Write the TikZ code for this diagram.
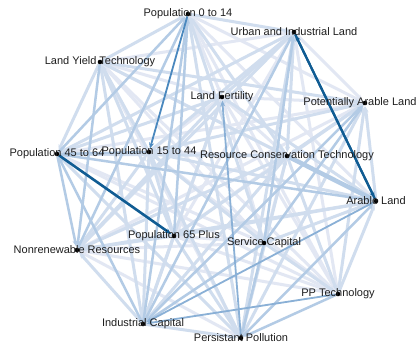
\documentclass[tikz,border=0pt]{standalone}
\usepackage{fontspec}
\setmainfont{Liberation Sans}
\usetikzlibrary{arrows.meta}
\definecolor{cw1}{HTML}{E2E7F3}
\definecolor{cw2}{HTML}{D0DDEE}
\definecolor{cw3}{HTML}{B3CBE5}
\definecolor{cw4}{HTML}{8AB0D6}
\definecolor{cmid}{HTML}{4A88BE}
\definecolor{cdark}{HTML}{105C93}
\definecolor{ctext}{HTML}{1E1E1E}
\tikzset{
  vtx/.style={circle,inner sep=0pt,minimum size=4.6pt},
  lab/.style={font=\fontsize{11pt}{12pt}\selectfont,text=ctext,inner sep=0pt},
  tipa/.style={-{Stealth[length=6pt,width=5pt]},shorten >=1pt},
  ew1/.style={tipa,draw=cw1,line width=3pt},
  ew2/.style={tipa,draw=cw2,line width=3pt},
  ew3/.style={tipa,draw=cw3,line width=2.5pt},
  ew4/.style={tipa,draw=cw4,line width=1.8pt},
  emid/.style={tipa,draw=cmid,line width=1.8pt},
  edark/.style={tipa,draw=cdark,line width=2.2pt},
}
\begin{document}
\begin{tikzpicture}[x=1pt,y=-1pt]
\useasboundingbox (0,0) rectangle (420,347);
\fill[white] (0,0) rectangle (420,347);
% vertices
\node[vtx] (n1) at (188,14) {};
\node[vtx] (n2) at (294,32) {};
\node[vtx] (n3) at (100,62) {};
\node[vtx] (n4) at (222,97) {};
\node[vtx] (n5) at (365,103) {};
\node[vtx] (n6) at (149,152) {};
\node[vtx] (n7) at (57,154) {};
\node[vtx] (n8) at (287,156) {};
\node[vtx] (n9) at (376,201) {};
\node[vtx] (n10) at (174,236) {};
\node[vtx] (n11) at (77,250) {};
\node[vtx] (n12) at (264,243) {};
\node[vtx] (n13) at (338,294) {};
\node[vtx] (n14) at (143,324) {};
\node[vtx] (n15) at (241,338) {};
% edges, lightest first
\foreach \a/\b in {1/4,1/5,1/9,1/13,2/3,2/5,2/10,2/13,3/4,3/8,3/12,3/13,3/15,
  4/5,6/4,4/8,4/10,4/12,4/13,5/7,5/11,8/6,6/13,7/12,7/13,8/10,8/12,10/12,10/13,
  11/12,11/13,11/15}
  \draw[ew1] (n\a) -- (n\b);
\foreach \a/\b in {1/2,3/1,8/1,12/1,15/1,2/4,6/2,2/7,2/8,11/2,15/2,3/5,6/3,3/7,3/9,10/3,14/3,
  4/7,9/4,11/4,14/4,6/5,5/8,9/5,5/10,13/5,15/5,9/6,6/10,11/6,12/6,14/6,6/15,8/7,15/7,
  11/8,8/13,8/14,15/8,10/9,9/11,12/9,13/9,10/11,10/14,10/15,14/11,12/13,14/15}
  \draw[ew2] (n\a) -- (n\b);
\foreach \a/\b in {7/1,10/1,11/1,14/1,12/2,14/2,3/11,12/5,14/5,6/7,7/9,7/11,14/7,15/9,12/14,12/15,13/15}
  \draw[ew3] (n\a) -- (n\b);
\draw[ew3,line width=4.5pt] (n8) -- (n9);
\foreach \a/\b in {15/4,9/14,13/14}
  \draw[ew4] (n\a) -- (n\b);
\draw[emid] (n1) -- (n6);
\draw[edark] (n9) -- (n2);
\draw[edark] (n2) -- (n9);
\draw[edark,line width=2.6pt] (n7) -- (n10);
% dots
\foreach \i in {1,...,15} \fill[black] (n\i.center) circle (2.3pt);
% labels
\node[lab] (l1) at (n1) {Population 0 to 14};
\node[lab] (l2) at (n2) {Urban and Industrial Land};
\node[lab] (l3) at (n3) {Land Yield Technology};
\node[lab] (l4) at (n4) {Land Fertility};
\node[lab,xshift=-5pt] (l5) at (n5) {Potentially Arable Land};
\node[lab] (l6) at (n6) {Population 15 to 44};
\node[lab] (l7) at (n7) {Population 45 to 64};
\node[lab] (l8) at (n8) {Resource Conservation Technology};
\node[lab] (l9) at (n9) {Arable Land};
\node[lab] (l10) at (n10) {Population 65 Plus};
\node[lab] (l11) at (n11) {Nonrenewable Resources};
\node[lab] (l12) at (n12) {Service Capital};
\node[lab] (l13) at (n13) {PP Technology};
\node[lab] (l14) at (n14) {Industrial Capital};
\node[lab] (l15) at (n15) {Persistant Pollution};
\end{tikzpicture}
\end{document}
